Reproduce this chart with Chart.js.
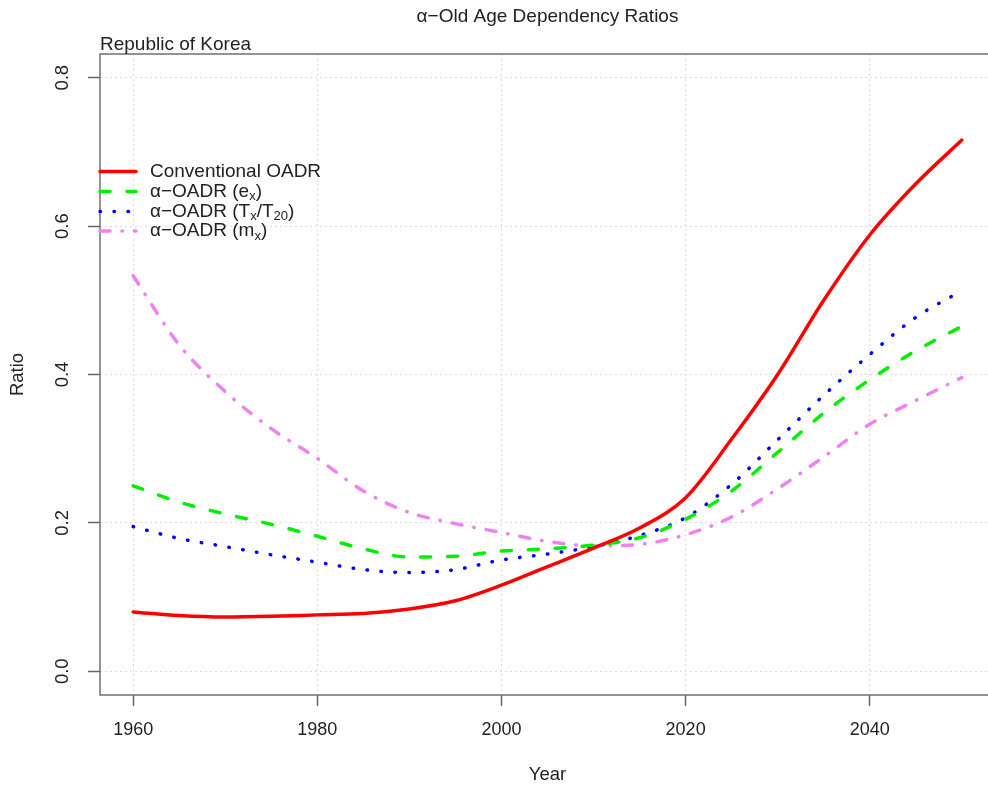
<!DOCTYPE html>
<html>
<head>
<meta charset="utf-8">
<script src="https://cdn.jsdelivr.net/npm/chart.js@4"></script>
<style>
  html, body { margin: 0; padding: 0; background: #fff; overflow: hidden; }
  #wrap { width: 1000px; height: 792px; }
</style>
</head>
<body>
<div id="wrap"><canvas id="grafica"></canvas></div>
<script>
const years = [1960, 1965, 1970, 1975, 1980, 1985, 1990, 1995, 2000, 2005, 2010, 2015, 2020, 2025, 2030, 2035, 2040, 2045, 2050];

// conventional OADR
const oadr = [0.080, 0.075, 0.073, 0.074, 0.076, 0.078, 0.084, 0.095, 0.116, 0.141, 0.166, 0.193, 0.234, 0.313, 0.400, 0.500, 0.588, 0.657, 0.716];
// alpha-OADR (e_x)
const alphaEx = [0.250, 0.228, 0.212, 0.198, 0.182, 0.165, 0.154, 0.155, 0.162, 0.165, 0.170, 0.180, 0.205, 0.243, 0.295, 0.348, 0.393, 0.432, 0.465];
// alpha-OADR (T_x/T_20)
const alphaTx = [0.195, 0.179, 0.168, 0.157, 0.147, 0.137, 0.133, 0.137, 0.150, 0.158, 0.168, 0.183, 0.207, 0.252, 0.312, 0.372, 0.427, 0.477, 0.513];
// alpha-OADR (m_x)
const alphaMx = [0.533, 0.440, 0.377, 0.327, 0.287, 0.243, 0.214, 0.199, 0.187, 0.175, 0.169, 0.171, 0.184, 0.208, 0.246, 0.289, 0.333, 0.365, 0.396];

const xTicks = [1960, 1980, 2000, 2020, 2040];
const yTicks = [0.0, 0.2, 0.4, 0.6, 0.8];

const titulo = "\u03B1\u2212Old Age Dependency Ratios";
const subtitulo = "Republic of Korea";
const ejeX = "Year";
const ejeY = "Ratio";

const FONT = '"Liberation Sans", Arial, sans-serif';

// legend entries: text pieces, sub = subscript
const leyenda = [
  { color: "#ff0000", dash: [], parts: [{ t: "Conventional OADR" }] },
  { color: "#00ee00", dash: [10, 17], parts: [{ t: "\u03B1\u2212OADR (e" }, { t: "x", sub: true }, { t: ")" }] },
  { color: "#0000ff", dash: [0.5, 13.5], parts: [{ t: "\u03B1\u2212OADR (T" }, { t: "x", sub: true }, { t: "/T" }, { t: "20", sub: true }, { t: ")" }] },
  { color: "#ee82ee", dash: [10, 12, 0.5, 12], parts: [{ t: "\u03B1\u2212OADR (m" }, { t: "x", sub: true }, { t: ")" }] }
];

function serie(vals) {
  return years.map((yr, i) => ({ x: yr, y: vals[i] }));
}

function linea(label, vals, item) {
  return {
    label: label,
    data: serie(vals),
    borderColor: item.color,
    borderWidth: 3.5,
    borderDash: item.dash,
    borderCapStyle: "round",
    pointRadius: 0,
    fill: false,
    cubicInterpolationMode: "monotone"
  };
}

function textoRico(ctx, parts, x, y) {
  let cx = x;
  parts.forEach(p => {
    if (p.sub) {
      ctx.font = "13px " + FONT;
      ctx.fillText(p.t, cx, y + 5);
    } else {
      ctx.font = "19px " + FONT;
      ctx.fillText(p.t, cx, y);
    }
    cx += ctx.measureText(p.t).width;
  });
}

// box, texts, rotated y labels and legend
const extras = {
  id: "extras",
  afterDraw(chart) {
    const ctx = chart.ctx;
    const a = chart.chartArea;
    const ys = chart.scales.y;
    ctx.save();

    ctx.strokeStyle = "#707070";
    ctx.lineWidth = 1.5;
    ctx.setLineDash([]);
    ctx.strokeRect(a.left, a.top, a.right - a.left, a.bottom - a.top);

    ctx.fillStyle = "#222";
    ctx.textBaseline = "middle";
    ctx.textAlign = "center";
    ctx.font = "19px " + FONT;
    ctx.fillText(titulo, (a.left + a.right) / 2, 17);

    ctx.font = "18.5px " + FONT;
    ctx.fillText(ejeX, (a.left + a.right) / 2, 775);

    ctx.textAlign = "left";
    ctx.textBaseline = "alphabetic";
    ctx.font = "19px " + FONT;
    ctx.fillText(subtitulo, a.left, 50);

    // y tick labels (vertical like R)
    ctx.font = "18.5px " + FONT;
    ctx.textAlign = "center";
    ctx.textBaseline = "middle";
    yTicks.forEach(v => {
      const py = ys.getPixelForValue(v);
      ctx.save();
      ctx.translate(63, py);
      ctx.rotate(-Math.PI / 2);
      ctx.fillText(v.toFixed(1), 0, 0);
      ctx.restore();
    });
    ctx.save();
    ctx.translate(18, (a.top + a.bottom) / 2);
    ctx.rotate(-Math.PI / 2);
    ctx.fillText(ejeY, 0, 0);
    ctx.restore();

    // legend
    const filas = [171.5, 191.5, 211.5, 231];
    leyenda.forEach((it, i) => {
      const yy = filas[i];
      ctx.strokeStyle = it.color;
      ctx.lineWidth = 3.5;
      ctx.lineCap = "round";
      ctx.setLineDash(it.dash);
      ctx.beginPath();
      ctx.moveTo(a.left, yy);
      ctx.lineTo(a.left + 36, yy);
      ctx.stroke();
      ctx.setLineDash([]);
      ctx.fillStyle = "#222";
      ctx.textAlign = "left";
      ctx.textBaseline = "middle";
      textoRico(ctx, it.parts, 150, yy);
    });

    ctx.restore();
  }
};

const grafica = new Chart(document.getElementById("grafica"), {
  type: "line",
  data: {
    datasets: [
      linea("Conventional OADR", oadr, leyenda[0]),
      linea("alpha-OADR (ex)", alphaEx, leyenda[1]),
      linea("alpha-OADR (Tx/T20)", alphaTx, leyenda[2]),
      linea("alpha-OADR (mx)", alphaMx, leyenda[3])
    ]
  },
  options: {
    responsive: true,
    maintainAspectRatio: false,
    animation: false,
    layout: { padding: { top: 54, right: 5, left: 0, bottom: 0 } },
    plugins: {
      legend: { display: false },
      tooltip: { enabled: false }
    },
    scales: {
      x: {
        type: "linear",
        min: 1956.4,
        max: 2053.6,
        afterBuildTicks: s => { s.ticks = xTicks.map(v => ({ value: v })); },
        afterFit: s => { s.height = 97; },
        ticks: {
          color: "#222",
          font: { family: FONT, size: 18 },
          padding: 13,
          maxRotation: 0,
          callback: v => String(v)
        },
        grid: {
          color: "#dcdcdc",
          lineWidth: 1,
          drawTicks: true,
          tickLength: 11,
          tickColor: "#666",
          tickWidth: 1.5,
          tickBorderDash: []
        },
        border: { display: false, dash: [2, 3] }
      },
      y: {
        min: -0.032,
        max: 0.832,
        afterBuildTicks: s => { s.ticks = yTicks.map(v => ({ value: v })); },
        afterFit: s => { s.width = 100; },
        ticks: { color: "rgba(0,0,0,0)", font: { size: 18 } },
        grid: {
          color: "#dcdcdc",
          lineWidth: 1,
          drawTicks: true,
          tickLength: 12,
          tickColor: "#666",
          tickWidth: 1.5,
          tickBorderDash: []
        },
        border: { display: false, dash: [2, 3] }
      }
    }
  },
  plugins: [extras]
});
</script>
</body>
</html>
